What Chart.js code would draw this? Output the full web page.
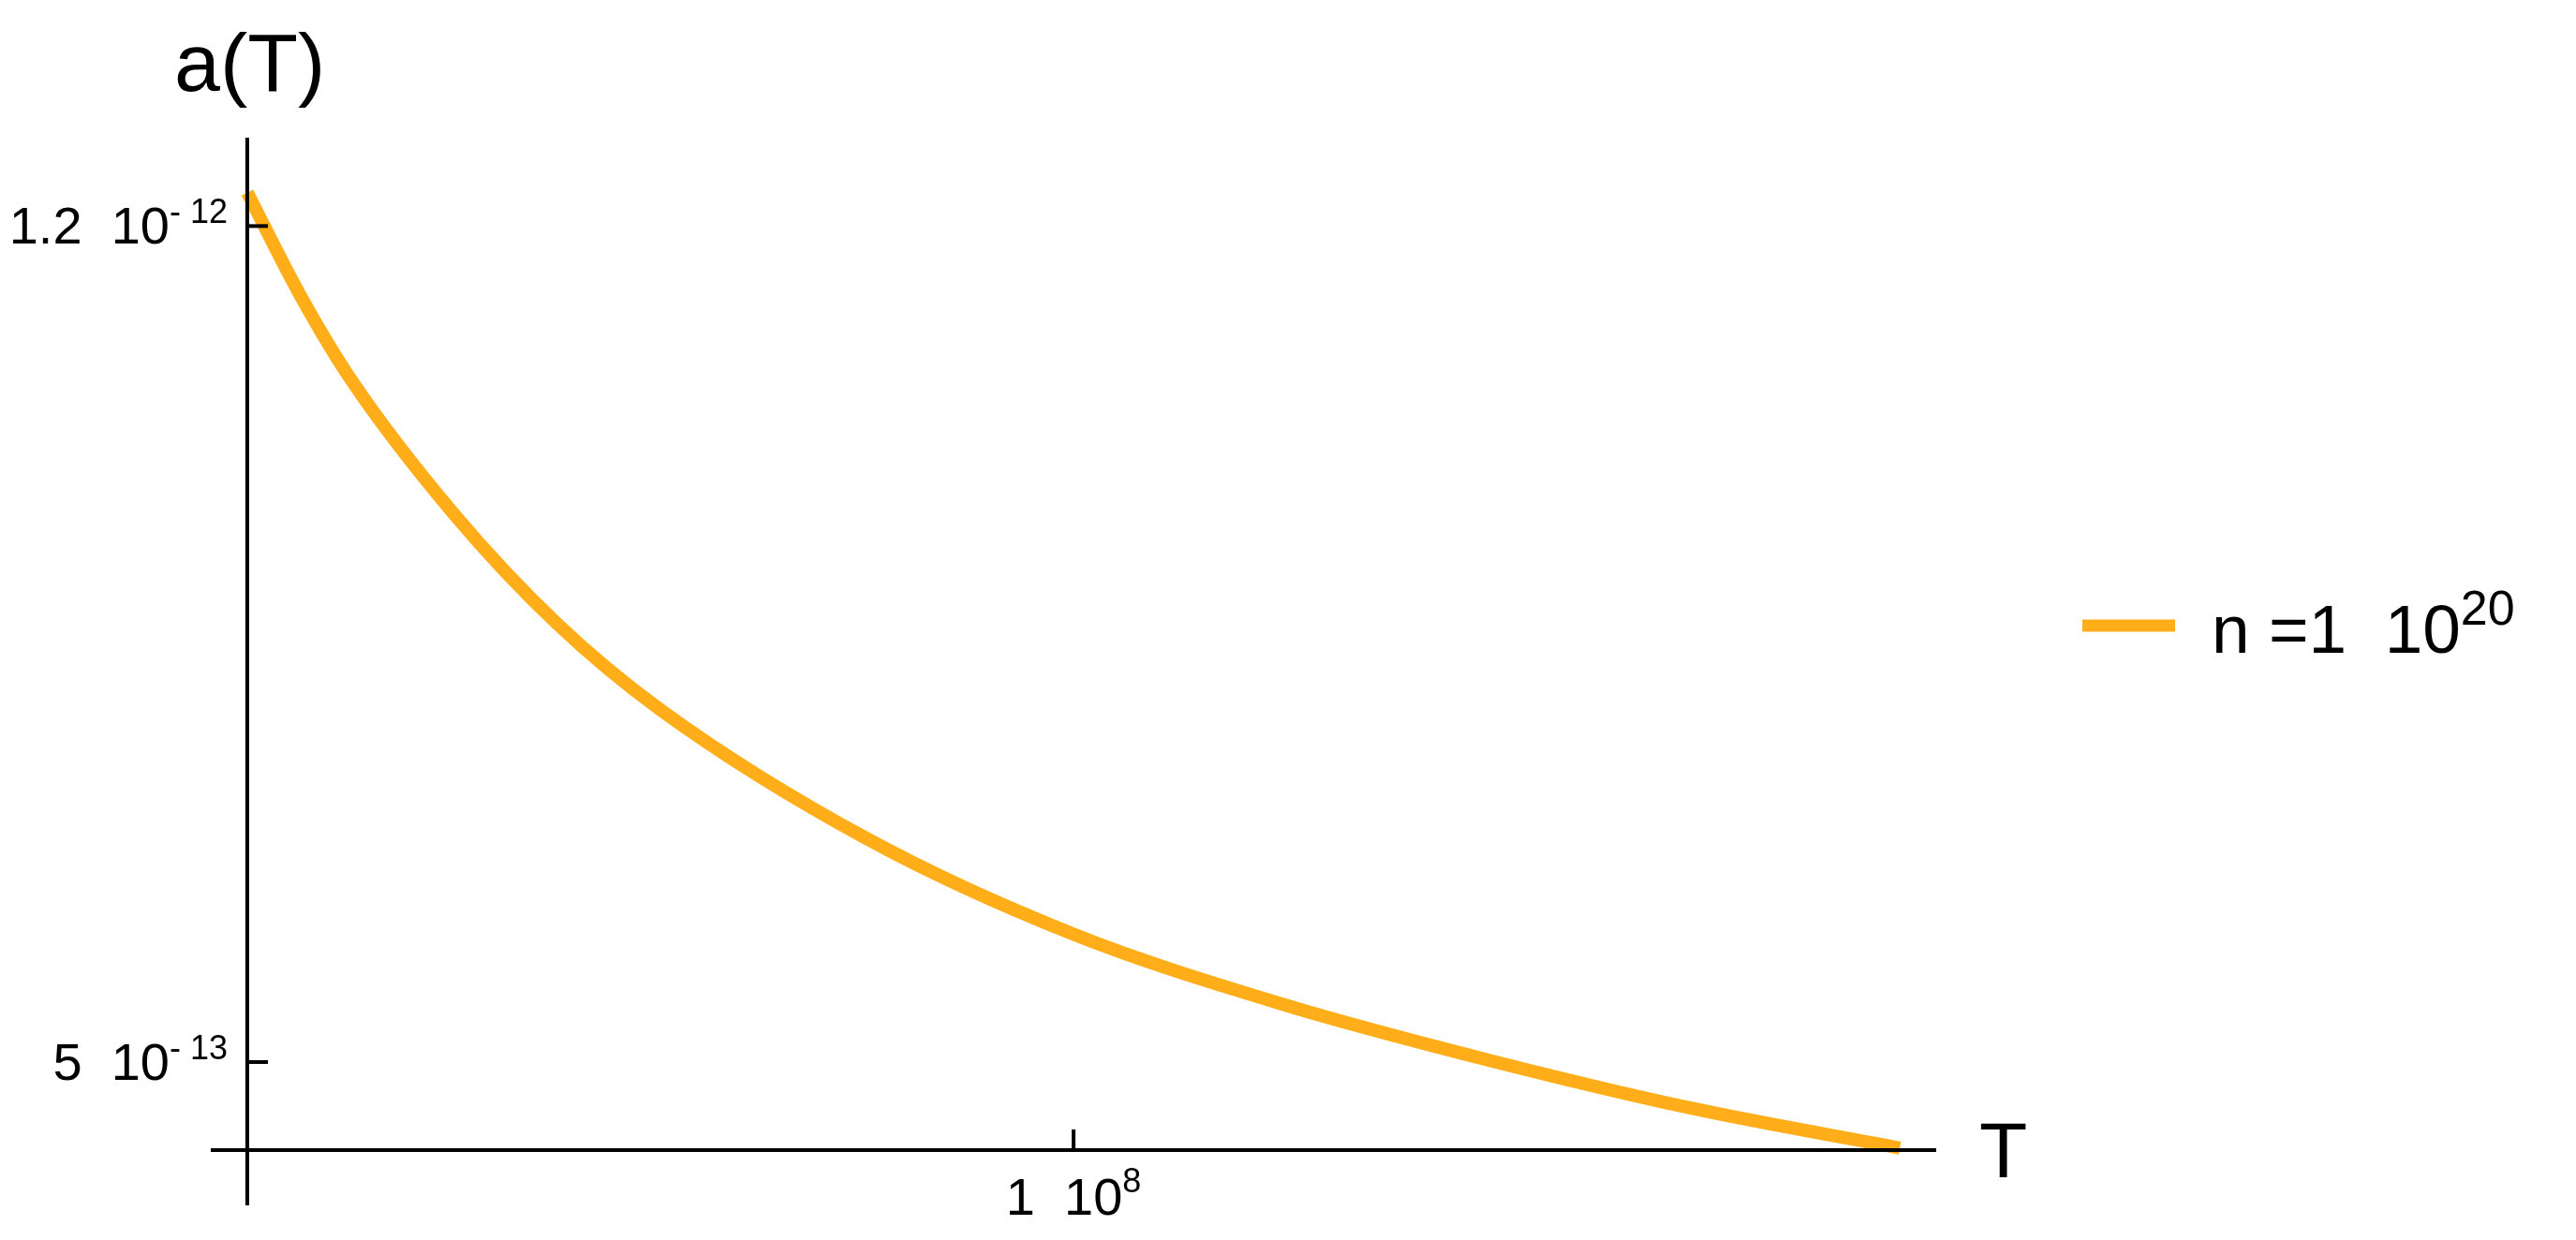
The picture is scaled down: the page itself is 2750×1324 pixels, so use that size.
<!DOCTYPE html>
<html>
<head>
<meta charset="utf-8">
<script src="https://cdn.jsdelivr.net/npm/chart.js@4"></script>
<style>
  body { margin: 0; background: #fff; }
  canvas { display: block; }
</style>
</head>
<body>
<canvas id="myChart" width="2750" height="1324"></canvas>
<script>
// data
const tValues = [0, 0.0625e8, 0.125e8, 0.25e8, 0.375e8, 0.5e8, 0.75e8, 1e8, 1.25e8, 1.5e8, 1.75e8, 2e8];
const aValues = [12.28e-13, 11.44e-13, 10.72e-13, 9.59e-13, 8.67e-13, 7.95e-13, 6.87e-13, 6.07e-13, 5.49e-13, 5.02e-13, 4.61e-13, 4.28e-13];

const xTicks = [1e8];
const xTickLabels = [['1  10', '8']];
const yTicks = [1.2e-12, 5e-13];
const yTickLabels = [['1.2  10', '- 12'], ['5  10', '- 13']];

const seriesLabel = ['n =1  10', '20'];
const xTitle = 'T';
const yTitle = 'a(T)';

// axis ranges, the axes cross at (0, yCross)
const xMin = -0.0442e8, xMax = 2.044e8;
const yMin = 3.80e-13, yMax = 12.74e-13;
const yCross = 4.263e-13;

const orange = '#FFAE19';
const FONT = '"Liberation Sans", Arial, sans-serif';

function supText(ctx, base, sup, x, y, size, supSize, rise, align) {
  ctx.font = size + 'px ' + FONT;
  const wb = ctx.measureText(base).width;
  ctx.font = supSize + 'px ' + FONT;
  const ws = ctx.measureText(sup).width;
  let x0 = x;
  if (align === 'center') x0 = x - (wb + ws) / 2;
  if (align === 'right') x0 = x - (wb + ws);
  ctx.textAlign = 'left';
  ctx.textBaseline = 'alphabetic';
  ctx.font = size + 'px ' + FONT;
  ctx.fillText(base, x0, y);
  ctx.font = supSize + 'px ' + FONT;
  ctx.fillText(sup, x0 + wb, y - rise);
}

const axesPlugin = {
  id: 'mmaAxes',
  afterDatasetsDraw(chart) {
    const ctx = chart.ctx;
    const xs = chart.scales.x, ys = chart.scales.y;
    const area = chart.chartArea;
    const ax = xs.getPixelForValue(0);
    const ay = ys.getPixelForValue(yCross);
    ctx.save();
    ctx.strokeStyle = '#000';
    ctx.fillStyle = '#000';
    ctx.lineWidth = 4;
    ctx.lineCap = 'butt';
    // axis lines
    ctx.beginPath();
    ctx.moveTo(area.left, ay); ctx.lineTo(area.right, ay);
    ctx.moveTo(ax, area.top); ctx.lineTo(ax, area.bottom);
    ctx.stroke();
    // x ticks
    xTicks.forEach((v, i) => {
      const px = xs.getPixelForValue(v);
      ctx.beginPath();
      ctx.moveTo(px, ay); ctx.lineTo(px, ay - 22);
      ctx.stroke();
      supText(ctx, xTickLabels[i][0], xTickLabels[i][1], px, ay + 69, 56, 36, 24, 'center');
    });
    // y ticks
    yTicks.forEach((v, i) => {
      const py = ys.getPixelForValue(v);
      ctx.beginPath();
      ctx.moveTo(ax, py); ctx.lineTo(ax + 22, py);
      ctx.stroke();
      supText(ctx, yTickLabels[i][0], yTickLabels[i][1], ax - 21, py + 19, 56, 36, 22, 'right');
    });
    // axis titles
    ctx.textAlign = 'left';
    ctx.font = '88px ' + FONT;
    ctx.fillText(yTitle, ax - 78, area.top - 50);
    ctx.font = '84px ' + FONT;
    ctx.fillText(xTitle, area.right + 46, ay + 29);
    // legend
    const ly = chart.height / 2 + 6;
    ctx.strokeStyle = orange;
    ctx.lineWidth = 13;
    ctx.beginPath();
    ctx.moveTo(area.right + 156, ly); ctx.lineTo(area.right + 255, ly);
    ctx.stroke();
    ctx.fillStyle = '#000';
    supText(ctx, seriesLabel[0], seriesLabel[1], area.right + 294, ly + 29, 73, 52, 30, 'left');
    ctx.restore();
  }
};

new Chart(document.getElementById('myChart'), {
  type: 'scatter',
  data: {
    datasets: [{
      label: seriesLabel.join(''),
      data: tValues.map((t, i) => ({ x: t, y: aValues[i] })),
      showLine: true,
      borderColor: orange,
      backgroundColor: orange,
      borderWidth: 14,
      pointRadius: 0,
      cubicInterpolationMode: 'monotone'
    }]
  },
  options: {
    responsive: false,
    animation: false,
    devicePixelRatio: 1,
    layout: { padding: { left: 225, right: 683, top: 147, bottom: 37 } },
    scales: {
      x: { type: 'linear', min: xMin, max: xMax, display: false },
      y: { type: 'linear', min: yMin, max: yMax, display: false }
    },
    plugins: {
      legend: { display: false },
      tooltip: { enabled: false }
    }
  },
  plugins: [axesPlugin]
});
</script>
</body>
</html>
